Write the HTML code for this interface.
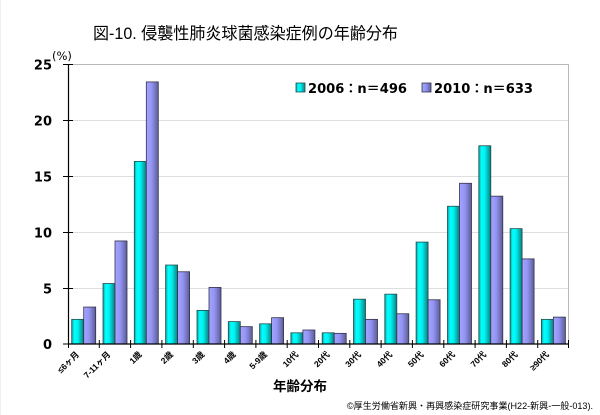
<!DOCTYPE html>
<html><head><meta charset="utf-8"><style>
html,body{margin:0;padding:0;background:#fff;}
svg{display:block;}
</style></head><body>
<svg width="600" height="415" viewBox="0 0 600 415" xmlns="http://www.w3.org/2000/svg">
<defs>
<linearGradient id="gc" x1="0" y1="0" x2="1" y2="0">
<stop offset="0" stop-color="#1a9a9a"/>
<stop offset="0.22" stop-color="#00ffff"/>
<stop offset="0.5" stop-color="#00f2f2"/>
<stop offset="1" stop-color="#0e7d7d"/>
</linearGradient>
<linearGradient id="gp" x1="0" y1="0" x2="1" y2="0">
<stop offset="0" stop-color="#a4a4ff"/>
<stop offset="0.45" stop-color="#9393f2"/>
<stop offset="1" stop-color="#5c5c96"/>
</linearGradient>
</defs>
<rect x="0" y="0" width="600" height="415" fill="#fff"/>
<line x1="0.5" y1="0" x2="0.5" y2="415" stroke="#f0f0f0"/>

<text x="93" y="39" font-family="Liberation Sans, Noto Sans CJK JP, sans-serif" font-size="16.5" textLength="305" lengthAdjust="spacingAndGlyphs" fill="#000">図-10. 侵襲性肺炎球菌感染症例の年齢分布</text>

<!-- plot frame / grid -->
<line x1="68" y1="64.5" x2="569" y2="64.5" stroke="#b8b8b8"/>
<line x1="568.5" y1="64" x2="568.5" y2="344" stroke="#b8b8b8"/>
<g stroke="#dedede" stroke-width="1">
<line x1="68" y1="120.5" x2="568" y2="120.5"/>
<line x1="68" y1="176.5" x2="568" y2="176.5"/>
<line x1="68" y1="232.5" x2="568" y2="232.5"/>
<line x1="68" y1="288.5" x2="568" y2="288.5"/>
</g>

<!-- bars -->
<g stroke-width="0.8">
<g fill="url(#gc)" stroke="#1f4d4d">
<rect x="71.7" y="319.36" width="12" height="24.64"/>
<rect x="103.0" y="283.52" width="12" height="60.48"/>
<rect x="134.3" y="161.44" width="12" height="182.56"/>
<rect x="165.6" y="265.04" width="12" height="78.96"/>
<rect x="197.0" y="310.4" width="12" height="33.6"/>
<rect x="228.3" y="321.6" width="12" height="22.4"/>
<rect x="259.6" y="323.84" width="12" height="20.16"/>
<rect x="290.9" y="332.8" width="12" height="11.2"/>
<rect x="322.2" y="332.8" width="12" height="11.2"/>
<rect x="353.5" y="299.2" width="12" height="44.8"/>
<rect x="384.8" y="294.16" width="12" height="49.84"/>
<rect x="416.1" y="242.08" width="12" height="101.92"/>
<rect x="447.5" y="206.24" width="12" height="137.76"/>
<rect x="478.8" y="145.76" width="12" height="198.24"/>
<rect x="510.1" y="228.64" width="12" height="115.36"/>
<rect x="541.4" y="319.36" width="12" height="24.64"/>
</g>
<g fill="url(#gp)" stroke="#33334d">
<rect x="83.7" y="307.04" width="12" height="36.96"/>
<rect x="115.0" y="240.96" width="12" height="103.04"/>
<rect x="146.3" y="81.92" width="12" height="262.08"/>
<rect x="177.6" y="271.76" width="12" height="72.24"/>
<rect x="209.0" y="287.44" width="12" height="56.56"/>
<rect x="240.3" y="326.64" width="12" height="17.36"/>
<rect x="271.6" y="317.68" width="12" height="26.32"/>
<rect x="302.9" y="330" width="12" height="14"/>
<rect x="334.2" y="333.36" width="12" height="10.64"/>
<rect x="365.5" y="319.36" width="12" height="24.64"/>
<rect x="396.8" y="313.76" width="12" height="30.24"/>
<rect x="428.1" y="299.76" width="12" height="44.24"/>
<rect x="459.5" y="183.28" width="12" height="160.72"/>
<rect x="490.8" y="196.16" width="12" height="147.84"/>
<rect x="522.1" y="258.88" width="12" height="85.12"/>
<rect x="553.4" y="317.12" width="12" height="26.88"/>
</g>
</g>

<!-- axes -->
<line x1="68.5" y1="64" x2="68.5" y2="344" stroke="#000" stroke-width="1.2"/>
<line x1="68" y1="344" x2="569" y2="344" stroke="#000" stroke-width="1.2"/>
<g stroke="#000" stroke-width="1">
<line x1="63" y1="64.5" x2="73" y2="64.5"/>
<line x1="63" y1="120.5" x2="73" y2="120.5"/>
<line x1="63" y1="176.5" x2="73" y2="176.5"/>
<line x1="63" y1="232.5" x2="73" y2="232.5"/>
<line x1="63" y1="288.5" x2="73" y2="288.5"/>
<line x1="63" y1="344" x2="73" y2="344"/>
<line x1="68.5" y1="340" x2="68.5" y2="348"/>
<line x1="99.3" y1="340" x2="99.3" y2="348"/>
<line x1="130.6" y1="340" x2="130.6" y2="348"/>
<line x1="161.9" y1="340" x2="161.9" y2="348"/>
<line x1="193.3" y1="340" x2="193.3" y2="348"/>
<line x1="224.6" y1="340" x2="224.6" y2="348"/>
<line x1="255.9" y1="340" x2="255.9" y2="348"/>
<line x1="287.2" y1="340" x2="287.2" y2="348"/>
<line x1="318.5" y1="340" x2="318.5" y2="348"/>
<line x1="349.8" y1="340" x2="349.8" y2="348"/>
<line x1="381.1" y1="340" x2="381.1" y2="348"/>
<line x1="412.4" y1="340" x2="412.4" y2="348"/>
<line x1="443.8" y1="340" x2="443.8" y2="348"/>
<line x1="475.1" y1="340" x2="475.1" y2="348"/>
<line x1="506.4" y1="340" x2="506.4" y2="348"/>
<line x1="537.7" y1="340" x2="537.7" y2="348"/>
<line x1="568.5" y1="340" x2="568.5" y2="348"/>
</g>

<!-- y labels -->
<g font-family="DejaVu Sans, Liberation Sans, sans-serif" font-weight="bold" font-size="13" text-anchor="end" fill="#000">
<text x="52" y="69.5">25</text>
<text x="52" y="125.5">20</text>
<text x="52" y="181.5">15</text>
<text x="52" y="237.5">10</text>
<text x="52" y="293.5">5</text>
<text x="52" y="349">0</text>
</g>
<text x="52" y="60" font-family="DejaVu Sans, Liberation Sans, sans-serif" font-size="11.5" fill="#000">(%)</text>

<!-- legend -->
<rect x="296" y="83" width="9" height="9" fill="url(#gc)" stroke="#1f4d4d" stroke-width="0.8"/>
<text x="308" y="93" font-family="DejaVu Sans, Noto Sans CJK JP, sans-serif" font-weight="bold" font-size="13" textLength="99" lengthAdjust="spacingAndGlyphs" fill="#000">2006：n＝496</text>
<rect x="422" y="83" width="9" height="9" fill="url(#gp)" stroke="#33334d" stroke-width="0.8"/>
<text x="434" y="93" font-family="DejaVu Sans, Noto Sans CJK JP, sans-serif" font-weight="bold" font-size="13" textLength="99" lengthAdjust="spacingAndGlyphs" fill="#000">2010：n＝633</text>

<!-- x labels -->
<g font-family="Liberation Sans, Noto Sans CJK JP, sans-serif" font-size="8.5" font-weight="bold" text-anchor="end" fill="#000">
<text transform="translate(79.7,355) rotate(-45)">≤6ヶ月</text>
<text transform="translate(111.0,355) rotate(-45)">7-11ヶ月</text>
<text transform="translate(142.3,355) rotate(-45)">1歳</text>
<text transform="translate(173.6,355) rotate(-45)">2歳</text>
<text transform="translate(205.0,355) rotate(-45)">3歳</text>
<text transform="translate(236.3,355) rotate(-45)">4歳</text>
<text transform="translate(267.6,355) rotate(-45)">5-9歳</text>
<text transform="translate(298.9,355) rotate(-45)">10代</text>
<text transform="translate(330.2,355) rotate(-45)">20代</text>
<text transform="translate(361.5,355) rotate(-45)">30代</text>
<text transform="translate(392.8,355) rotate(-45)">40代</text>
<text transform="translate(424.1,355) rotate(-45)">50代</text>
<text transform="translate(455.5,355) rotate(-45)">60代</text>
<text transform="translate(486.8,355) rotate(-45)">70代</text>
<text transform="translate(518.1,355) rotate(-45)">80代</text>
<text transform="translate(549.4,355) rotate(-45)">≥90代</text>
</g>

<text x="300" y="391" text-anchor="middle" font-family="Liberation Sans, Noto Sans CJK JP, sans-serif" font-weight="bold" font-size="13.5" fill="#000">年齢分布</text>

<text x="347" y="409" font-family="Liberation Sans, Noto Sans CJK JP, sans-serif" font-size="9" textLength="246" lengthAdjust="spacingAndGlyphs" fill="#000">©厚生労働省新興・再興感染症研究事業(H22-新興-一般-013).</text>
</svg>
</body></html>
